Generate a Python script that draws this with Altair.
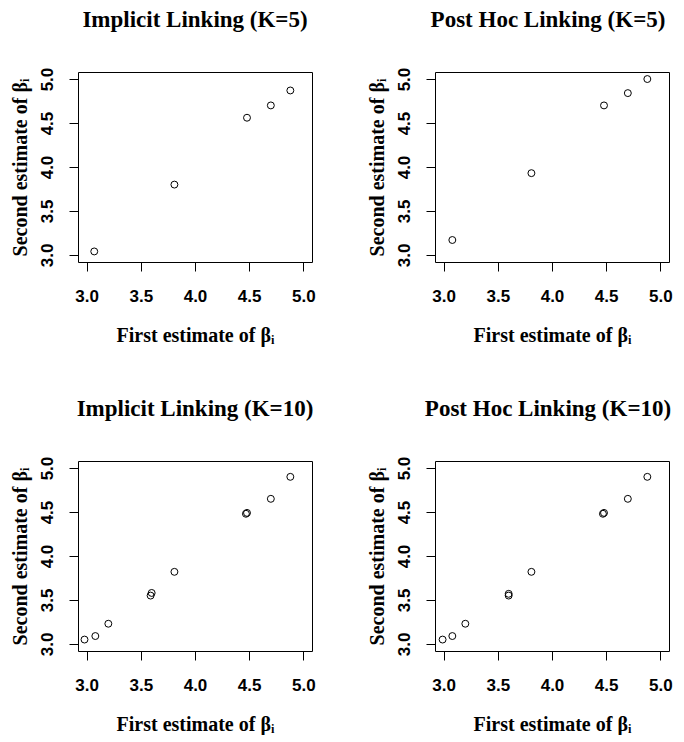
import altair as alt
import pandas as pd

# First / second estimates
x_imp5 = [3.07, 3.81, 4.48, 4.70, 4.88]
y_imp5 = [3.04, 3.80, 4.56, 4.70, 4.87]

x_post5 = [3.08, 3.81, 4.48, 4.70, 4.88]
y_post5 = [3.17, 3.93, 4.70, 4.84, 5.00]

x_imp10 = [2.98, 3.08, 3.20, 3.59, 3.60, 3.81, 4.47, 4.48, 4.70, 4.88]
y_imp10 = [3.05, 3.09, 3.23, 3.55, 3.58, 3.82, 4.48, 4.49, 4.65, 4.90]

x_post10 = [2.99, 3.08, 3.20, 3.60, 3.60, 3.81, 4.47, 4.48, 4.70, 4.88]
y_post10 = [3.05, 3.09, 3.23, 3.55, 3.57, 3.82, 4.48, 4.49, 4.65, 4.90]

titles = ["Implicit Linking (K=5)", "Post Hoc Linking (K=5)",
          "Implicit Linking (K=10)", "Post Hoc Linking (K=10)"]
tick_values = [3.0, 3.5, 4.0, 4.5, 5.0]
axis_domain = [2.92, 5.08]

x_title = "First estimate of \u03b2\u1d62"
y_title = "Second estimate of \u03b2\u1d62"

W, H = 234, 190


def panel(xs, ys, title, title_dx):
    df = pd.DataFrame({"x": xs, "y": ys})
    return alt.Chart(df).mark_point(
        shape="circle", filled=False, color="black", size=48, strokeWidth=1, opacity=1
    ).encode(
        x=alt.X("x:Q", scale=alt.Scale(domain=axis_domain, nice=False, zero=False),
                axis=alt.Axis(values=tick_values, format=".1f", title=x_title,
                              labelPadding=17, titlePadding=21, titleFontSize=20)),
        y=alt.Y("y:Q", scale=alt.Scale(domain=axis_domain, nice=False, zero=False),
                axis=alt.Axis(values=tick_values, format=".1f", title=y_title,
                              labelAngle=-90, labelAlign="center", labelBaseline="bottom",
                              labelPadding=13, titlePadding=8, titleFontSize=20)),
    ).properties(
        width=W, height=H,
        title=alt.TitleParams(title, frame="group", anchor="middle", offset=35, dx=title_dx),
    )


row1 = alt.hconcat(panel(x_imp5, y_imp5, titles[0], 0),
                   panel(x_post5, y_post5, titles[1], -4), spacing=50)
row2 = alt.hconcat(panel(x_imp10, y_imp10, titles[2], 0),
                   panel(x_post10, y_post10, titles[3], -4), spacing=50)

chart = alt.vconcat(row1, row2, spacing=51).properties(
    padding={"left": 1, "top": 0, "right": 0, "bottom": 0},
    background="white",
).configure_view(
    stroke="black", strokeWidth=1
).configure_axis(
    domain=False, grid=False, ticks=True, tickColor="black", tickSize=9, tickWidth=1,
    labelFont="Liberation Sans", labelFontWeight="bold", labelFontSize=17, labelColor="black",
    titleFont="Liberation Serif", titleFontWeight="bold", titleColor="black",
).configure_title(
    font="Liberation Serif", fontWeight="bold", fontSize=23, color="black"
)

chart.save("out.html", embed_options={"renderer": "svg", "actions": False})
